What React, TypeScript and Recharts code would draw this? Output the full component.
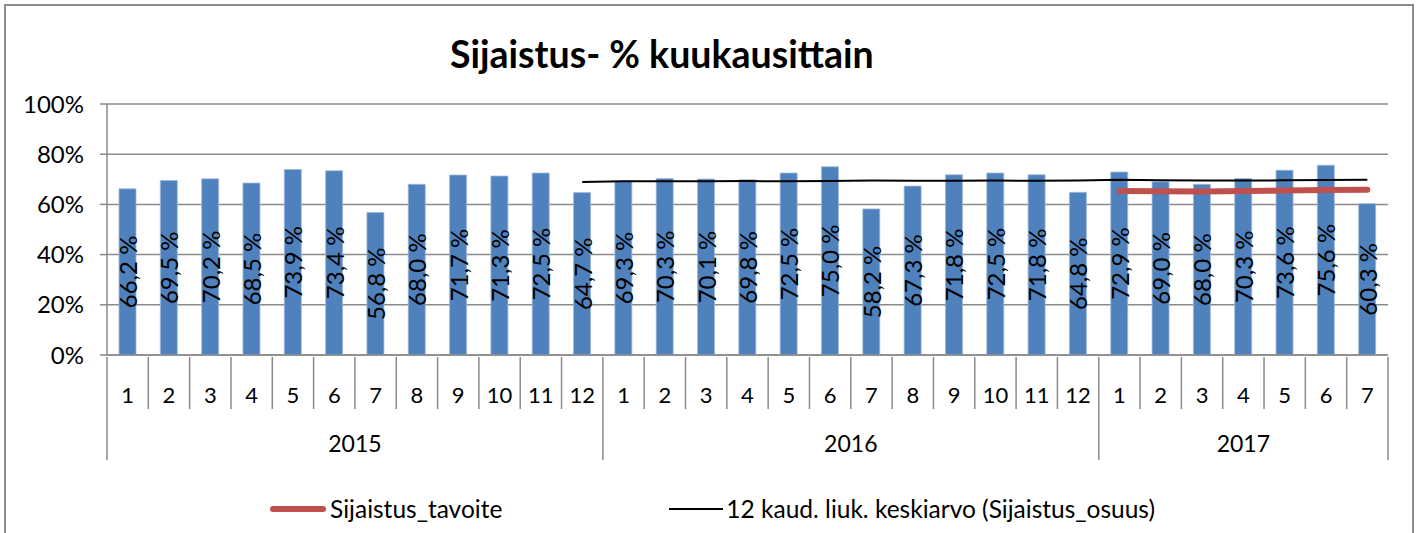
import React from "react";
import {
  ComposedChart, Bar, Line, XAxis, YAxis, CartesianGrid, LabelList, Legend,
} from "recharts";

const yearLabels = ["2015", "2016", "2017"];
const monthsPerYear = [12, 12, 7];

const sijaistusOsuus = [
  66.2, 69.5, 70.2, 68.5, 73.9, 73.4, 56.8, 68.0, 71.7, 71.3, 72.5, 64.7,
  69.3, 70.3, 70.1, 69.8, 72.5, 75.0, 58.2, 67.3, 71.8, 72.5, 71.8, 64.8,
  72.9, 69.0, 68.0, 70.3, 73.6, 75.6, 60.3,
];

const liukuvaKeskiarvo = [
  null, null, null, null, null, null, null, null, null, null, null, 68.9,
  69.2, 69.2, 69.2, 69.3, 69.2, 69.3, 69.5, 69.4, 69.4, 69.5, 69.4, 69.5,
  69.8, 69.6, 69.5, 69.5, 69.6, 69.7, 69.8,
];

const sijaistusTavoite = [
  null, null, null, null, null, null, null, null, null, null, null, null,
  null, null, null, null, null, null, null, null, null, null, null, null,
  65.3, 65.2, 65.1, 65.3, 65.5, 65.7, 65.8,
];

const yTicks = [0, 20, 40, 60, 80, 100];

const FONT = "Lato, 'Liberation Sans', sans-serif";
const GRID = "#8a8a8a";
const W = 1424;
const H = 533;
const M = { top: 104, right: 36, bottom: 0, left: 0 };
const Y_W = 107;
const X_H = 103;
const LEGEND_H = 75;

// build categories
const months: number[] = [];
const yearIdx: number[] = [];
monthsPerYear.forEach((n, yi) => {
  for (let m = 1; m <= n; m++) {
    months.push(m);
    yearIdx.push(yi);
  }
});

const data = months.map((m, i) => ({
  key: `${yearLabels[yearIdx[i]]}-${m}`,
  osuus: sijaistusOsuus[i],
  keskiarvo: liukuvaKeskiarvo[i],
  tavoite: sijaistusTavoite[i],
}));

const bandW = (W - M.left - M.right - Y_W) / data.length;
const fmt = (v: number) => v.toFixed(1).replace(".", ",") + " %";

function MonthTick(props: any) {
  const { x, y, payload } = props;
  const i = payload.index;
  const yi = yearIdx[i];
  const first = i === 0 || yearIdx[i - 1] !== yi;
  const last = i === data.length - 1;
  const start = yearIdx.indexOf(yi);
  const mid = start + (monthsPerYear[yi] - 1) / 2;
  const showYear = Math.floor(mid) === i;
  const left = x - bandW / 2;
  return (
    <g>
      <line x1={left} x2={left} y1={y} y2={y + (first ? X_H : 52)} stroke={GRID} strokeWidth={1.5} />
      {last && <line x1={x + bandW / 2} x2={x + bandW / 2} y1={y} y2={y + X_H} stroke={GRID} strokeWidth={1.5} />}
      <text x={x} y={y + 37} textAnchor="middle" dominantBaseline="central" fontSize={22} fontFamily={FONT} fill="#000">
        {months[i]}
      </text>
      {showYear && (
        <text x={x + (mid - i) * bandW} y={y + 86} textAnchor="middle" dominantBaseline="central" fontSize={23} fontFamily={FONT} fill="#000">
          {yearLabels[yi]}
        </text>
      )}
    </g>
  );
}

function BarLabel(props: any) {
  const { x, y, width, height, value } = props;
  const cx = x + width / 2;
  const cy = y + height / 2;
  return (
    <text x={cx} y={cy} transform={`rotate(-90, ${cx}, ${cy})`} textAnchor="middle" dominantBaseline="central"
      fontSize={24} fontFamily={FONT} fill="#000">
      {fmt(value)}
    </text>
  );
}

function LegendContent() {
  return (
    <div style={{ width: W, height: LEGEND_H, display: "flex", justifyContent: "center", alignItems: "flex-start", paddingTop: 36, boxSizing: "border-box", gap: 167, fontFamily: FONT, fontSize: 24.5, color: "#000" }}>
      <div style={{ display: "flex", alignItems: "center", gap: 3 }}>
        <svg width={58} height={10}><line x1={4} x2={54} y1={5} y2={5} stroke="#C0504D" strokeWidth={6} strokeLinecap="round" /></svg>
        <span>Sijaistus_tavoite</span>
      </div>
      <div style={{ display: "flex", alignItems: "center", gap: 3 }}>
        <svg width={54} height={10}><line x1={0} x2={54} y1={5} y2={5} stroke="#000" strokeWidth={2} /></svg>
        <span>12 kaud. liuk. keskiarvo (Sijaistus_osuus)</span>
      </div>
    </div>
  );
}

export default function App() {
  return (
    <div style={{ position: "absolute", left: 0, top: 0, width: W, height: H, overflow: "hidden", background: "#fff" }}>
      <div style={{ position: "absolute", left: 4, top: 4, width: 1406, height: 600, border: "2px solid #8c8c8c" }} />
      <div style={{ position: "absolute", left: 450, top: 31, whiteSpace: "nowrap", fontFamily: FONT, fontWeight: 700, fontSize: 37.5, color: "#000" }}>
        Sijaistus- % kuukausittain
      </div>
      <div style={{ position: "absolute", left: 0, top: 0 }}>
        <ComposedChart width={W} height={H} data={data} margin={M}>
          <CartesianGrid vertical={false} stroke={GRID} strokeWidth={1.5} />
          <XAxis dataKey="key" interval={0} height={X_H} tickSize={0} tickLine={false}
            axisLine={{ stroke: GRID, strokeWidth: 1.5 }} tick={<MonthTick />} />
          <YAxis domain={[0, 100]} ticks={yTicks} width={Y_W} tickSize={7} tickMargin={16}
            tickFormatter={(v: number) => `${v}%`}
            tick={{ fill: "#000", fontSize: 24, fontFamily: FONT }}
            tickLine={{ stroke: GRID, strokeWidth: 1.5 }} axisLine={{ stroke: GRID, strokeWidth: 1.5 }} />
          <Legend verticalAlign="bottom" height={LEGEND_H} wrapperStyle={{ left: 0, width: W }} content={<LegendContent />} />
          <Bar dataKey="osuus" name="Sijaistus_osuus" fill="#4F81BD" stroke="#9fb9dc" strokeWidth={0.8} barSize={17} isAnimationActive={false} legendType="none">
            <LabelList dataKey="osuus" content={<BarLabel />} />
          </Bar>
          <Line dataKey="keskiarvo" name="12 kaud. liuk. keskiarvo (Sijaistus_osuus)" stroke="#000" strokeWidth={2} dot={false} type="linear" isAnimationActive={false} />
          <Line dataKey="tavoite" name="Sijaistus_tavoite" stroke="#C0504D" strokeWidth={6} strokeLinecap="round" dot={false} type="linear" isAnimationActive={false} />
        </ComposedChart>
      </div>
    </div>
  );
}
